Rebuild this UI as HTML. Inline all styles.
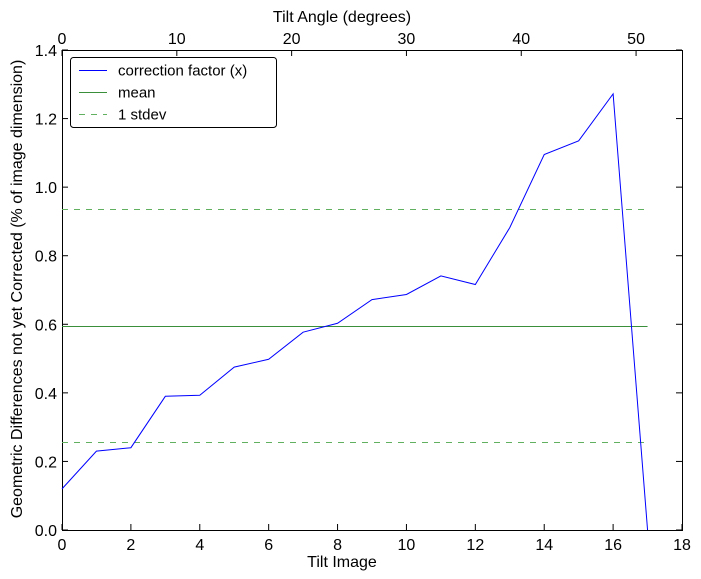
<!DOCTYPE html>
<html><head><meta charset="utf-8"><style>
body{margin:0;background:#fff;}
svg{display:block;font-family:"Liberation Sans",sans-serif;}
</style></head><body>
<svg id="chart" width="701" height="579" xmlns="http://www.w3.org/2000/svg"></svg>
<script>
const xValues=[0,1,2,3,4,5,6,7,8,9,10,11,12,13,14,15,16,17];
const correction=[0.12,0.23,0.24,0.39,0.393,0.475,0.498,0.577,0.603,0.672,0.687,0.741,0.716,0.882,1.095,1.135,1.272,0.0];
const meanValue=[0.596];
const stdevValues=[0.256,0.936];
const xTicks=[0,2,4,6,8,10,12,14,16,18];
const yTicks=[0.0,0.2,0.4,0.6,0.8,1.0,1.2,1.4];
const topTicks=[0,10,20,30,40,50];
const L=62,R=682,T=50,B=530;
const xs=v=>L+(v-0)/18*(R-L);
const ys=v=>B-(v/1.4)*(B-T);
const xt=v=>L+v/54*(R-L);
const snap=v=>Math.round(v)+0.5;
const svg=document.getElementById('chart');
const NS='http://www.w3.org/2000/svg';
function el(tag,attrs,parent){const e=document.createElementNS(NS,tag);for(const k in attrs)e.setAttribute(k,attrs[k]);(parent||svg).appendChild(e);return e;}
const frame=el('rect',{x:L+0.5,y:T+0.5,width:R-L,height:B-T,fill:'#fff',stroke:'#000','stroke-width':1});


xTicks.forEach(v=>{const x=xs(v);
 el('line',{x1:x,y1:B,x2:x,y2:B-6,stroke:'#000'});
 const t=el('text',{x:x,y:B+20,'text-anchor':'middle','font-size':16});t.textContent=v;
 
 });
yTicks.forEach(v=>{const y=ys(v);
 el('line',{x1:L,y1:y,x2:L+6,y2:y,stroke:'#000'});
 el('line',{x1:R,y1:y,x2:R-6,y2:y,stroke:'#000'});
 const t=el('text',{x:L-5,y:y+6,'text-anchor':'end','font-size':16});t.textContent=v.toFixed(1);
 
 });
topTicks.forEach(v=>{const x=xt(v);
 el('line',{x1:x,y1:T,x2:x,y2:T+6,stroke:'#000'});
 const t=el('text',{x:x,y:T-6,'text-anchor':'middle','font-size':16});t.textContent=v;
 
 });
const xEnd=xs(17);
meanValue.forEach(m=>{const ln=el('line',{x1:L,y1:snap(ys(m)),x2:xEnd,y2:snap(ys(m)),stroke:'#3a8f3a','stroke-width':1});
 
 });
stdevValues.forEach(s=>{const ln=el('line',{x1:L,y1:snap(ys(s)),x2:xEnd,y2:snap(ys(s)),stroke:'#60b060','stroke-width':1,'stroke-dasharray':'6,6'});
 
 });
const pl=el('polyline',{points:xValues.map((x,i)=>xs(x)+','+ys(correction[i])).join(' '),fill:'none',stroke:'#0000ff','stroke-width':1});


const xl=el('text',{x:(L+R)/2-30,y:567,'text-anchor':'middle','font-size':16});xl.textContent='Tilt Image';


const tl=el('text',{x:(L+R)/2-30,y:22,'text-anchor':'middle','font-size':16});tl.textContent='Tilt Angle (degrees)';


const yl=el('text',{x:0,y:0,'text-anchor':'middle','font-size':16,transform:'translate(22,289) rotate(-90)'});yl.textContent='Geometric Differences not yet Corrected (% of image dimension)';


const lg=el('g',{});


el('rect',{x:70.5,y:57.5,width:206,height:70,rx:3,fill:'#fff',stroke:'#000'},lg);
const entries=[['correction factor (x)','#0000ff',null,70.5],['mean','#3a8f3a',null,92.5],['1 stdev','#60b060','6,6',114.5]];
entries.forEach(e=>{const g=el('g',{},lg);
 
 
 const a={x1:79,y1:e[3],x2:107,y2:e[3],stroke:e[1]};if(e[2])a['stroke-dasharray']=e[2];el('line',a,g);
 const t=el('text',{x:118,y:e[3]+5,'font-size':15},g);t.textContent=e[0];});
</script>
</body></html>
